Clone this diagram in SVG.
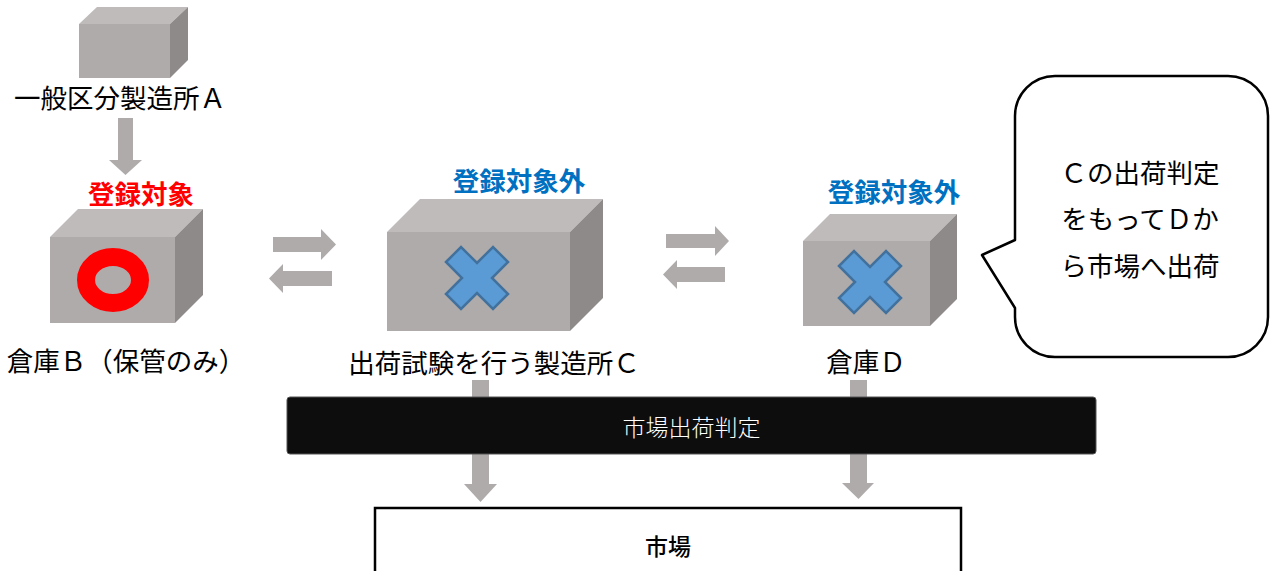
<svg xmlns="http://www.w3.org/2000/svg" width="1275" height="571" viewBox="0 0 1275 571">
<style>
.front{fill:#afabab}
.top{fill:#bfbbbb}
.side{fill:#8e8a8a}
.arrow{fill:#afabab}
.lbl{font-family:"Noto Sans CJK JP","Noto Sans",sans-serif;font-size:26.5px;fill:#000;text-anchor:middle}
.tag{font-family:"Noto Sans CJK JP","Noto Sans",sans-serif;font-size:26.5px;font-weight:bold;text-anchor:middle}
.cross{fill:#5b9bd5;stroke:#41719c;stroke-width:2.5;stroke-linejoin:miter}
</style>
<defs>
<path id="xmark" class="cross" d="M-31,-16 L-16,-31 L0,-15 L16,-31 L31,-16 L15,0 L31,16 L16,31 L0,15 L-16,31 L-31,16 L-15,0 Z"/>
</defs>
<rect width="1275" height="571" fill="#fff"/>
<g id="connectors">
<path class="arrow" d="M118,118 H133 V160 H142 L125.5,175 L109,160 H118 Z"/>
<path class="arrow" d="M273,237 H321 V229 L336,244.5 L321,260 V252 H273 Z"/>
<path class="arrow" d="M332,271 H283 V264 L269,278.5 L283,293 V286 H332 Z"/>
<path class="arrow" d="M666,234 H715 V226 L729,241 L715,256 V248 H666 Z"/>
<path class="arrow" d="M725,267 H677 V260 L663,274.5 L677,289 V282 H725 Z"/>
<path class="arrow" d="M472,380 H489 V484 H497 L480.5,502 L464,484 H472 Z"/>
<path class="arrow" d="M850,380 H867 V483 H874 L858.5,499 L842,483 H850 Z"/>
</g>
<g id="nodeA">
<rect class="front" x="79" y="24" width="91" height="54"/>
<polygon class="top" points="79,24 97,7 188,7 170,24"/>
<polygon class="side" points="170,24 188,7 188,60 170,78"/>
<text class="lbl" x="120" y="108">一般区分製造所Ａ</text>
</g>
<g id="nodeB">
<text class="tag" x="141" y="204" fill="#ff0000">登録対象</text>
<rect class="front" x="50" y="237" width="125" height="86"/>
<polygon class="top" points="50,237 78,209 203,209 175,237"/>
<polygon class="side" points="175,237 203,209 203,295 175,323"/>
<ellipse cx="113" cy="280" rx="27" ry="23" fill="none" stroke="#ff0000" stroke-width="18"/>
<text class="lbl" x="126" y="371">倉庫Ｂ（保管のみ）</text>
</g>
<g id="nodeC">
<text class="tag" x="519" y="191" fill="#0070c0">登録対象外</text>
<rect class="front" x="387" y="232" width="183" height="99"/>
<polygon class="top" points="387,232 420,199 603,199 570,232"/>
<polygon class="side" points="570,232 603,199 603,298 570,331"/>
<use href="#xmark" x="477" y="278"/>
<text class="lbl" x="494" y="373">出荷試験を行う製造所Ｃ</text>
</g>
<g id="nodeD">
<text class="tag" x="894" y="202" fill="#0070c0">登録対象外</text>
<rect class="front" x="803" y="241" width="127" height="85"/>
<polygon class="top" points="803,241 830,214 957,214 930,241"/>
<polygon class="side" points="930,241 957,214 957,299 930,326"/>
<use href="#xmark" x="870" y="282"/>
<text class="lbl" x="866" y="372">倉庫Ｄ</text>
</g>
<g id="callout">
<path d="M1055,76 H1228 A40,40 0 0 1 1268,116 V317 A40,40 0 0 1 1228,357 H1055 A40,40 0 0 1 1015,317 V308 L982,255 L1015,240 V116 A40,40 0 0 1 1055,76 Z" fill="#fff" stroke="#000" stroke-width="2.5" stroke-linejoin="round"/>
<text class="lbl" x="1140" y="183">Ｃの出荷判定</text>
<text class="lbl" x="1140" y="229">をもってＤか</text>
<text class="lbl" x="1140" y="276">ら市場へ出荷</text>
</g>
<g id="judgement">
<rect x="287" y="397" width="809" height="57" rx="3" fill="#0d0d0d" stroke="#555" stroke-width="1"/>
<text x="691.5" y="436" font-family="'Noto Sans CJK JP','Noto Sans',sans-serif" font-size="23" font-weight="300" fill="#fff" text-anchor="middle">市場出荷判定</text>
</g>
<g id="market">
<rect x="375" y="508" width="586" height="80" fill="#fff" stroke="#000" stroke-width="2.5"/>
<text x="668" y="555" font-family="'Noto Sans CJK JP','Noto Sans',sans-serif" font-size="23" font-weight="500" fill="#000" text-anchor="middle">市場</text>
</g>
</svg>
